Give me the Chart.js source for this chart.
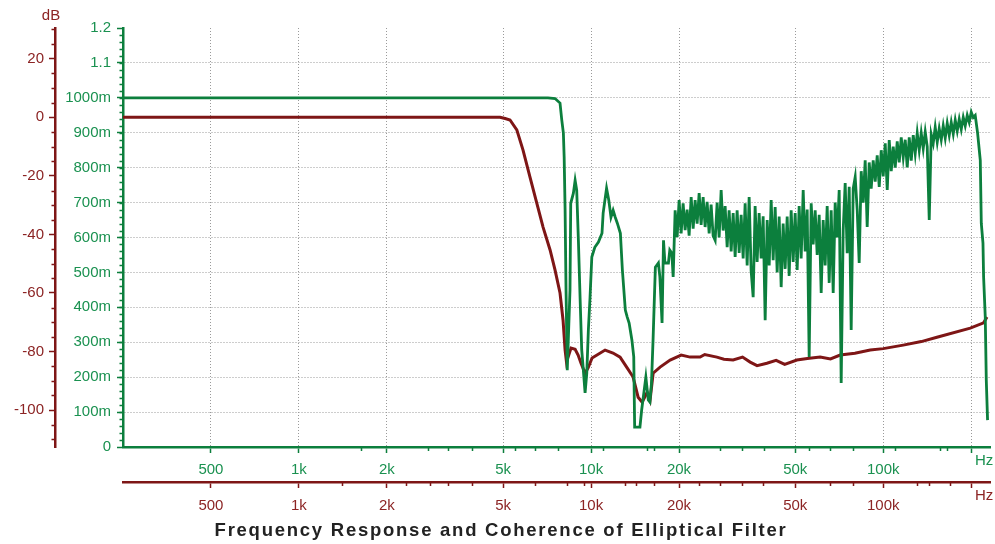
<!DOCTYPE html>
<html>
<head>
<meta charset="utf-8">
<script src="https://cdn.jsdelivr.net/npm/chart.js@4.4.1/dist/chart.umd.min.js"></script>
<style>
  html, body { margin: 0; padding: 0; background: #fff; }
  #wrap { width: 995px; height: 544px; }
</style>
</head>
<body>
<div id="wrap"><canvas id="chart" width="995" height="544"></canvas></div>
<script>
// coherence (green)
const freqCoh = [250, 7120, 7530, 7830, 7940, 8040, 8090, 8150, 8210, 8290,
  8470, 8520, 8700, 8820, 8930, 9050, 9170, 9290, 9410, 9540,
  9670, 9790, 9920, 10060, 10300, 10600, 10900, 11000, 11300, 11500,
  11700, 11900, 12100, 12300, 12600, 12800, 13100, 13300, 13500, 13800,
  14000, 14100, 14700, 14900, 15200, 15400, 15700, 15900, 16100, 16300,
  16600, 17000, 17200, 17500, 17700, 17900, 18400, 18600, 18900, 19100,
  19400, 19710, 20020, 20340, 20660,
  20990, 21320, 21660, 22010, 22360,
  22710, 23070, 23440, 23810, 24190,
  24570, 24960, 25360, 25760, 26170,
  26590, 27010, 27440, 27880, 28320,
  28770, 29230, 29690, 30170, 30650,
  31130, 31620, 32130, 32640, 33160,
  33680, 34220, 34760, 35310, 35880,
  36440, 37020, 37610, 38210, 38820,
  39440, 40070, 40710, 41350, 42010,
  42670, 43350, 44040, 44740, 45450,
  46170, 46910, 47650, 48410, 49180,
  49960, 50750, 51560, 52380, 53220,
  54060, 54920, 55790, 56680, 57580,
  58490, 59420, 60370, 61330, 62300,
  63290, 64300, 65320, 66360, 67420,
  68480, 69570, 70680, 71800, 72940,
  74100, 75280, 76480, 77690, 78930,
  80180, 81450, 82750, 84070, 85410,
  86750, 88130, 89540, 90960, 92410,
  93890, 95380, 96900, 98450, 100010,
  101590, 103210, 104850, 106520, 108210,
  109920, 111670, 113450, 115250, 117090,
  118940, 120830, 122760, 124710, 126700,
  128690, 130740, 132820, 134930, 137080,
  139250, 141460, 143720, 146010, 148330,
  150670, 153070, 155500, 157980, 160490,
  163030, 165620, 168260, 170940, 173660,
  176410, 179210, 182070, 184970, 187920,
  190870, 193910, 196990, 200130, 203320,
  206500, 210400, 214900, 216600, 219500, 220600, 223500, 225300, 227600];
const coherence = [1.0, 1.0, 0.998, 0.985, 0.936, 0.899, 0.830, 0.678, 0.449, 0.220,
  0.449, 0.698, 0.727, 0.764, 0.736, 0.592, 0.429, 0.278, 0.220, 0.155,
  0.212, 0.335, 0.429, 0.544, 0.572, 0.587, 0.612, 0.670, 0.741, 0.707,
  0.658, 0.678, 0.658, 0.641, 0.612, 0.507, 0.392, 0.372, 0.355, 0.306,
  0.258, 0.057, 0.057, 0.106, 0.163, 0.200, 0.135, 0.129, 0.183, 0.306,
  0.515, 0.527, 0.487, 0.355, 0.592, 0.527, 0.527, 0.564, 0.555, 0.487,
  0.678, 0.601, 0.707, 0.612, 0.698,
  0.621, 0.680, 0.605, 0.716, 0.625,
  0.707, 0.640, 0.727, 0.636, 0.716,
  0.630, 0.702, 0.612, 0.694, 0.605,
  0.592, 0.700, 0.600, 0.736, 0.620,
  0.690, 0.572, 0.678, 0.560, 0.670,
  0.544, 0.678, 0.556, 0.665, 0.540,
  0.698, 0.520, 0.716, 0.505, 0.429,
  0.690, 0.530, 0.670, 0.540, 0.661,
  0.363, 0.650, 0.520, 0.707, 0.535,
  0.687, 0.500, 0.660, 0.458, 0.640,
  0.510, 0.660, 0.490, 0.678, 0.530,
  0.670, 0.507, 0.690, 0.540, 0.736,
  0.560, 0.680, 0.258, 0.698, 0.580,
  0.678, 0.550, 0.665, 0.441, 0.650,
  0.520, 0.690, 0.470, 0.678, 0.441,
  0.700, 0.600, 0.736, 0.183, 0.620,
  0.756, 0.555, 0.745, 0.335, 0.740,
  0.773, 0.680, 0.527, 0.790, 0.700,
  0.821, 0.630, 0.815, 0.740, 0.821,
  0.760, 0.835, 0.745, 0.850, 0.775,
  0.870, 0.736, 0.879, 0.790, 0.860,
  0.800, 0.875, 0.815, 0.887, 0.830,
  0.880, 0.801, 0.887, 0.820, 0.893,
  0.841, 0.899, 0.850, 0.899, 0.855,
  0.902, 0.860, 0.650, 0.895, 0.870,
  0.916, 0.873, 0.912, 0.880, 0.920,
  0.885, 0.927, 0.893, 0.930, 0.897,
  0.936, 0.905, 0.939, 0.910, 0.944,
  0.920, 0.950, 0.930, 0.959, 0.944,
  0.950, 0.899, 0.821, 0.641, 0.584, 0.487, 0.372, 0.192, 0.077];

// frequency response in dB (dark red)
const freqResp = [250, 4880, 5080, 5280, 5570, 5850, 6180, 6520, 6850, 7240,
  7530, 7830, 8020, 8150, 8240, 8540, 8820, 9030, 9240, 9540,
  9770, 10080, 10480, 11170, 11890, 12570, 13290, 13930, 14490, 14960,
  15560, 15920, 16310, 17230, 18650, 20340, 21830, 23620, 24500, 26950,
  28500, 30640, 33000, 35040, 37000, 39970, 43000, 46000, 50630, 55000,
  60830, 66000, 71230, 80000, 90270, 100000, 117100, 135000, 152700, 198600,
  220600, 226500];
const magnitude = [0, 0, -0.4, -0.9, -4.3, -11.2, -20.4, -29.3, -37.5, -45.3,
  -52.2, -60.0, -69.3, -79.5, -83.6, -78.8, -79.2, -81.2, -84.0, -87.4,
  -85.6, -82.2, -81.2, -79.5, -80.5, -81.9, -85.6, -88.7, -95.6, -97.3,
  -93.9, -96.6, -87.4, -85.3, -82.9, -81.2, -81.9, -81.9, -81.0, -81.9,
  -82.6, -82.9, -81.9, -83.6, -84.8, -84.0, -83.0, -84.4, -82.9, -82.4,
  -81.9, -82.5, -81.2, -80.6, -79.5, -79.0, -77.8, -76.6, -75.1, -72.0,
  -70.2, -68.2];

const freqTicks = [500, 1000, 2000, 5000, 10000, 20000, 50000, 100000, 200000];
const freqLabels = ['500', '1k', '2k', '5k', '10k', '20k', '50k', '100k', ''];
const greenMinor = [1630, 2770, 3250, 3900, 5490, 6430, 7730, 11000, 15500, 16400,
  27600, 32900, 39000, 55500, 65500, 78700, 110000, 157000, 165000];
const redMinor = [1410, 2330, 2810, 3250, 3900, 6430, 8260, 9440, 13100, 14300, 16400,
  23400, 27600, 32900, 38900, 65600, 78700, 131000, 144000, 169000];
const cohTicks = [0, 0.1, 0.2, 0.3, 0.4, 0.5, 0.6, 0.7, 0.8, 0.9, 1.0, 1.1, 1.2];
const cohLabels = ['0', '100m', '200m', '300m', '400m', '500m', '600m', '700m', '800m', '900m', '1000m', '1.1', '1.2'];
const dbTicks = [-100, -80, -60, -40, -20, 0, 20];

const GREEN = '#0c7f3d';
const GREEN_TXT = '#1a9150';
const RED = '#7e1616';
const RED_TXT = '#8c2424';
const GRID = '#9a9a9a';
const tickFont = { family: 'Liberation Sans', size: 15 };
const titleText = 'Frequency Response and Coherence of Elliptical Filter';

const decorations = {
  id: 'decorations',
  afterDraw(chart) {
    const { ctx } = chart;
    const { x, x2, yCoh, yDb } = chart.scales;
    ctx.save();
    ctx.lineWidth = 1.5;
    ctx.strokeStyle = GREEN;
    ctx.beginPath();
    greenMinor.forEach(v => {
      const px = Math.round(x.getPixelForValue(v)) + 0.5;
      ctx.moveTo(px, x.top); ctx.lineTo(px, x.top + 4);
    });
    for (let v = 0.02; v < 1.2; v += 0.02) {
      const py = Math.round(yCoh.getPixelForValue(v)) + 0.5;
      ctx.moveTo(yCoh.right, py); ctx.lineTo(yCoh.right - 3.5, py);
    }
    ctx.stroke();
    ctx.strokeStyle = RED;
    ctx.beginPath();
    redMinor.forEach(v => {
      const px = Math.round(x2.getPixelForValue(v)) + 0.5;
      ctx.moveTo(px, x2.top); ctx.lineTo(px, x2.top + 4);
    });
    for (let v = -110; v <= 30; v += 5) {
      if (v % 20 === 0) continue;
      const py = Math.round(yDb.getPixelForValue(v)) + 0.5;
      ctx.moveTo(yDb.right, py); ctx.lineTo(yDb.right - 3.5, py);
    }
    ctx.stroke();

    ctx.font = '15px "Liberation Sans"';
    ctx.textAlign = 'center';
    ctx.textBaseline = 'middle';
    ctx.fillStyle = GREEN_TXT;
    ctx.fillText('Hz', x.getPixelForValue(200000) + 13, x.top + 14);
    ctx.fillStyle = RED_TXT;
    ctx.fillText('Hz', x2.getPixelForValue(200000) + 13, x2.top + 14);
    ctx.fillText('dB', yDb.right - 4, 16);

    ctx.font = 'bold 18.5px "Liberation Sans"';
    ctx.letterSpacing = '1.75px';
    ctx.fillStyle = '#222';
    ctx.fillText(titleText, 501, 531);
    ctx.restore();
  }
};

new Chart('chart', {
  type: 'line',
  data: {
    datasets: [
      {
        label: 'Coherence',
        data: freqCoh.map((f, i) => ({ x: f, y: coherence[i] })),
        xAxisID: 'x',
        yAxisID: 'yCoh',
        borderColor: GREEN,
        borderWidth: 2.8,
        pointRadius: 0,
        tension: 0,
      },
      {
        label: 'Magnitude',
        data: freqResp.map((f, i) => ({ x: f, y: magnitude[i] })),
        xAxisID: 'x2',
        yAxisID: 'yDb',
        borderColor: RED,
        borderWidth: 3,
        pointRadius: 0,
        tension: 0,
      },
    ],
  },
  options: {
    responsive: false,
    animation: false,
    devicePixelRatio: 1,
    layout: { padding: { top: 28, right: 5, left: 0, bottom: 29 } },
    plugins: { legend: { display: false }, tooltip: { enabled: false } },
    scales: {
      x: {
        type: 'logarithmic',
        position: 'bottom',
        weight: 0,
        bounds: 'data',
        min: 250,
        max: 232000,
        afterBuildTicks: s => { s.ticks = freqTicks.map(v => ({ value: v })); },
        afterFit: s => { s.height = 35; },
        ticks: { autoSkip: false, maxRotation: 0, color: GREEN_TXT, font: tickFont, padding: 8,
          callback: (v, i) => freqLabels[i] },
        grid: { color: GRID, lineWidth: 1, tickColor: GREEN, tickLength: 6, tickWidth: 1.5, tickBorderDash: [] },
        border: { color: GREEN, width: 2.5, dash: [1, 2] },
      },
      x2: {
        type: 'logarithmic',
        position: 'bottom',
        weight: 1,
        bounds: 'data',
        min: 250,
        max: 232000,
        afterBuildTicks: s => { s.ticks = freqTicks.map(v => ({ value: v })); },
        afterFit: s => { s.height = 33; },
        ticks: { autoSkip: false, maxRotation: 0, color: RED_TXT, font: tickFont, padding: 9,
          callback: (v, i) => freqLabels[i] },
        grid: { drawOnChartArea: false, tickColor: RED, tickLength: 6, tickWidth: 1.5 },
        border: { color: RED, width: 2.5 },
      },
      yCoh: {
        type: 'linear',
        position: 'left',
        weight: 0,
        bounds: 'data',
        min: 0,
        max: 1.2,
        afterBuildTicks: s => { s.ticks = cohTicks.map(v => ({ value: v })); },
        afterFit: s => { s.width = 68; },
        ticks: { color: GREEN_TXT, font: tickFont, padding: 6, callback: (v, i) => cohLabels[i] },
        grid: {
          color: c => (c.tick && (c.tick.value === 0 || c.tick.value === 1.2)) ? 'rgba(0,0,0,0)' : GRID,
          lineWidth: 1, tickColor: GREEN, tickLength: 6, tickWidth: 1.5, tickBorderDash: [],
        },
        border: { color: GREEN, width: 2.5, dash: [1, 2] },
      },
      yDb: {
        type: 'linear',
        position: 'left',
        weight: 1,
        bounds: 'data',
        min: -112.6,
        max: 30.5,
        afterBuildTicks: s => { s.ticks = dbTicks.map(v => ({ value: v })); },
        afterFit: s => { s.width = 55; },
        ticks: { color: RED_TXT, font: tickFont, padding: 5 },
        grid: { drawOnChartArea: false, tickColor: RED, tickLength: 6, tickWidth: 1.5 },
        border: { color: RED, width: 2.5 },
      },
    },
  },
  plugins: [decorations],
});
</script>
</body>
</html>
